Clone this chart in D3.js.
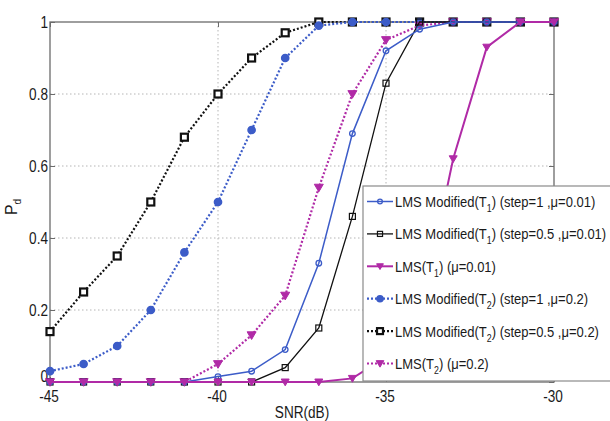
<!DOCTYPE html>
<html>
<head>
<meta charset="utf-8">
<script src="https://cdn.jsdelivr.net/npm/d3@7/dist/d3.min.js"></script>
<style>
  html, body { margin: 0; padding: 0; background: #fff; }
  svg { display: block; }
  text { font-family: "Liberation Sans", Arial, sans-serif; fill: #1a1a1a; }
</style>
</head>
<body>
<svg id="chart" width="610" height="421"></svg>
<script>
// SNR sweep (dB) and detection probability for each detector
const snr = [-45, -44, -43, -42, -41, -40, -39, -38, -37, -36, -35, -34, -33, -32, -31, -30];

const lmsModT1Step1 = [0, 0, 0, 0, 0, 0.015, 0.03, 0.09, 0.33, 0.69, 0.92, 0.98, 1, 1, 1, 1];
const lmsModT1Step05 = [0, 0, 0, 0, 0, 0, 0, 0.04, 0.15, 0.46, 0.83, 1, 1, 1, 1, 1];
const lmsT1 = [0, 0, 0, 0, 0, 0, 0, 0, 0, 0.01, 0.07, 0.18, 0.62, 0.93, 1, 1];
const lmsModT2Step1 = [0.03, 0.05, 0.10, 0.20, 0.36, 0.50, 0.70, 0.90, 0.99, 1, 1, 1, 1, 1, 1, 1];
const lmsModT2Step05 = [0.14, 0.25, 0.35, 0.50, 0.68, 0.80, 0.90, 0.97, 1, 1, 1, 1, 1, 1, 1, 1];
const lmsT2 = [0, 0, 0, 0, 0, 0.05, 0.13, 0.24, 0.54, 0.80, 0.95, 0.99, 1, 1, 1, 1];

const xTicks = [-45, -40, -35, -30];
const yTicks = [0, 0.2, 0.4, 0.6, 0.8, 1];

// legend labels: text before subscript, subscript, text after
const legendLabels = [
  ["LMS Modified(T", "1", ") (step=1 ,\u03bc=0.01)"],
  ["LMS Modified(T", "1", ") (step=0.5 ,\u03bc=0.01)"],
  ["LMS(T", "1", ") (\u03bc=0.01)"],
  ["LMS Modified(T", "2", ") (step=1 ,\u03bc=0.2)"],
  ["LMS Modified(T", "2", ") (step=0.5 ,\u03bc=0.2)"],
  ["LMS(T", "2", ") (\u03bc=0.2)"]
];

const BLUE = "#3c5cc8";
const MAG = "#b02aa6";
const BLK = "#111";

const series = [
  { values: lmsModT1Step1,  color: BLUE, dash: null,   width: 1.5, marker: "circle", size: 2.8, fill: "none",  mw: 1.3 },
  { values: lmsModT1Step05, color: BLK,  dash: null,   width: 1.3, marker: "square", size: 6,   fill: "none",  mw: 1.2 },
  { values: lmsT1,          color: MAG,  dash: null,   width: 2,   marker: "tri",    size: 8,   fill: MAG,     mw: 1 },
  { values: lmsModT2Step1,  color: BLUE, dash: "2,2",  width: 2.2, marker: "circle", size: 3.6, fill: BLUE,    mw: 1.5 },
  { values: lmsModT2Step05, color: BLK,  dash: "2,2",  width: 2.2, marker: "square", size: 7,   fill: "#fff",  mw: 2.2 },
  { values: lmsT2,          color: MAG,  dash: "2,2",  width: 2.2, marker: "tri",    size: 9,   fill: MAG,     mw: 1 }
];

const svg = d3.select("#chart");
const L = 50, R = 554, T = 22, B = 382;

const x = d3.scaleLinear().domain([-45, -30]).range([L, R]);
const y = d3.scaleLinear().domain([0, 1]).range([B, T]);

// horizontally condensed text helper
function label(g, px, py, str, size, anchor, sx) {
  return g.append("text")
    .attr("transform", `translate(${px},${py}) scale(${sx},1)`)
    .attr("text-anchor", anchor)
    .attr("font-size", size)
    .text(str);
}

// grid
const grid = svg.append("g");
grid.selectAll("line.gy").data(yTicks.filter(d => d > 0 && d < 1)).join("line")
  .attr("x1", L).attr("x2", R).attr("y1", d => y(d)).attr("y2", d => y(d))
  .attr("stroke", "#b5b5b5").attr("stroke-width", 1).attr("stroke-dasharray", "1.5,2.5");
grid.selectAll("line.gx").data(xTicks.filter(d => d > -45 && d < -30)).join("line")
  .attr("x1", d => x(d)).attr("x2", d => x(d)).attr("y1", T).attr("y2", B)
  .attr("stroke", "#b5b5b5").attr("stroke-width", 1).attr("stroke-dasharray", "1.5,2.5");

// frame and axes
svg.append("rect").attr("x", L).attr("y", T).attr("width", R - L).attr("height", B - T)
  .attr("fill", "none").attr("stroke", "#6b6b6b").attr("stroke-width", 1.3);

const yAxisL = d3.axisLeft(y).tickValues(yTicks).tickSize(-5).tickFormat("");
const yAxisR = d3.axisRight(y).tickValues(yTicks).tickSize(-5).tickFormat("");
const xAxisB = d3.axisBottom(x).tickValues(xTicks).tickSize(-5).tickFormat("");
const xAxisT = d3.axisTop(x).tickValues(xTicks).tickSize(-5).tickFormat("");
[[yAxisL, `translate(${L},0)`], [yAxisR, `translate(${R},0)`],
 [xAxisB, `translate(0,${B})`], [xAxisT, `translate(0,${T})`]].forEach(([ax, tr]) => {
  const g = svg.append("g").attr("transform", tr).call(ax);
  g.select(".domain").remove();
  g.selectAll("line").attr("stroke", "#6b6b6b");
});

// tick labels
const tl = svg.append("g");
yTicks.forEach(v => {
  const off = v === 0 ? 0 : 6;
  label(tl, L - 2, y(v) + off, v === 0 || v === 1 ? String(v) : v.toFixed(1), 17, "end", 0.8);
});
xTicks.forEach(v => {
  label(tl, x(v) - 1, 402, String(v), 17, "middle", 0.8);
});

// axis titles
label(svg, 302, 418, "SNR(dB)", 17, "middle", 0.8);
const yl = svg.append("text")
  .attr("transform", "translate(17,207) rotate(-90)")
  .attr("text-anchor", "middle")
  .attr("font-size", 16);
yl.append("tspan").text("P");
yl.append("tspan").attr("dy", 4).attr("font-size", 10).text("d");

// markers
function drawMarker(g, s, cx, cy, scale) {
  const k = scale || 1;
  if (s.marker === "circle") {
    g.append("circle").attr("cx", cx).attr("cy", cy).attr("r", s.size * k)
      .attr("fill", s.fill).attr("stroke", s.color).attr("stroke-width", s.mw);
  } else if (s.marker === "square") {
    const h = s.size * k / 2;
    g.append("rect").attr("x", cx - h).attr("y", cy - h).attr("width", 2 * h).attr("height", 2 * h)
      .attr("fill", s.fill).attr("stroke", s.color).attr("stroke-width", s.mw);
  } else {
    const h = s.size * k / 2;
    g.append("path")
      .attr("d", `M${cx - h},${cy - h * 0.75}L${cx + h},${cy - h * 0.75}L${cx},${cy + h * 0.95}Z`)
      .attr("fill", s.fill).attr("stroke", s.color).attr("stroke-width", s.mw);
  }
}

const line = d3.line().x((d, i) => x(snr[i])).y(d => y(d));
const order = [4, 3, 5, 1, 0, 2];
const plot = svg.append("g");
order.forEach(idx => {
  const s = series[idx];
  const g = plot.append("g");
  g.append("path").attr("d", line(s.values)).attr("fill", "none")
    .attr("stroke", s.color).attr("stroke-width", s.width)
    .attr("stroke-dasharray", s.dash);
  s.values.forEach((v, i) => drawMarker(g, s, x(snr[i]), y(v)));
});

// legend
const lx = 363, ly = 186, lw = 260, lh = 195;
const leg = svg.append("g");
leg.append("rect").attr("x", lx).attr("y", ly).attr("width", lw).attr("height", lh)
  .attr("fill", "#fff").attr("stroke", "#8a8a8a").attr("stroke-width", 1.2);
const rowY = d3.scaleLinear().domain([0, 5]).range([201.5, 363.5]);
series.forEach((s, i) => {
  const cy = rowY(i);
  leg.append("line").attr("x1", lx + 4).attr("x2", lx + 30).attr("y1", cy).attr("y2", cy)
    .attr("stroke", s.color).attr("stroke-width", s.width).attr("stroke-dasharray", s.dash);
  drawMarker(leg, s, lx + 17, cy, 0.85);
  const parts = legendLabels[i];
  const t = leg.append("text")
    .attr("transform", `translate(${lx + 32},${cy + 5.5}) scale(0.84,1)`)
    .attr("font-size", 15.5);
  t.append("tspan").text(parts[0]);
  t.append("tspan").attr("dy", 5).attr("font-size", 10.5).text(parts[1]);
  t.append("tspan").attr("dy", -5).text(parts[2]);
});
</script>
</body>
</html>
